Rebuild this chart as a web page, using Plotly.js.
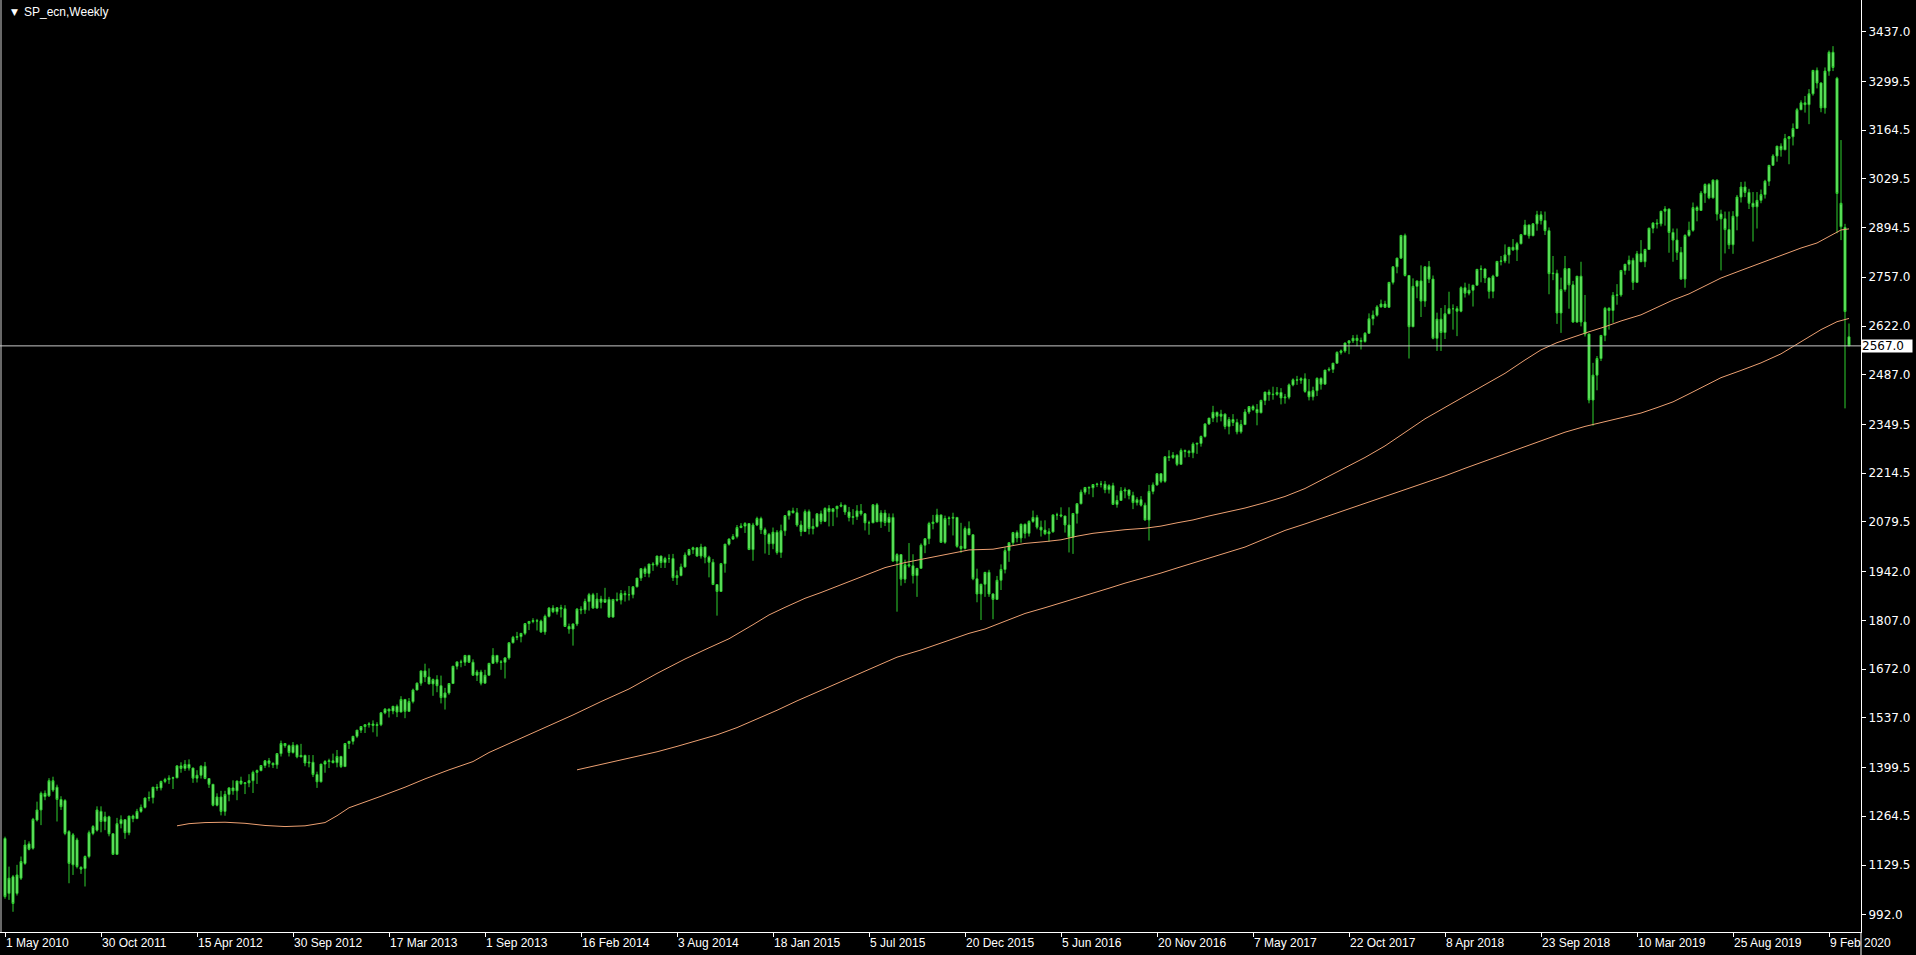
<!DOCTYPE html>
<html>
<head>
<meta charset="utf-8">
<script src="https://cdn.plot.ly/plotly-3.0.1.min.js"></script>
<style>
html,body{margin:0;padding:0;background:#000;overflow:hidden;}
#chart{width:1916px;height:955px;}
</style>
</head>
<body>
<div id="chart"></div>
<script>
// ---------------- DATA ----------------
const symbolTitle = "SP_ecn,Weekly";
const currentPrice = 2567.0;

// x-axis labels, one every 24 bars (bar 0 = "1 May 2010")
const xTickLabels = ["1 May 2010","30 Oct 2011","15 Apr 2012","30 Sep 2012","17 Mar 2013","1 Sep 2013",
  "16 Feb 2014","3 Aug 2014","18 Jan 2015","5 Jul 2015","20 Dec 2015","5 Jun 2016","20 Nov 2016",
  "7 May 2017","22 Oct 2017","8 Apr 2018","23 Sep 2018","10 Mar 2019","25 Aug 2019","9 Feb 2020"];
const labelEvery = 24;

const yTickValues = [992,1129.5,1264.5,1399.5,1537,1672,1807,1942,2079.5,2214.5,2349.5,2487,2622,2757,2894.5,3029.5,3164.5,3299.5,3437];

// weekly OHLC, bar 0 .. bar 461
const openP = [
1203,1051,1097,1051,1093,1134,1188,1176,1254,1282,
1319,1321,1337,1345,1311,1308,1222,1130,1199,1123,
1120,1153,1217,1226,1278,1250,1263,1216,1159,1244,
1255,1219,1265,1258,1278,1289,1315,1316,1345,1343,
1361,1366,1370,1371,1404,1397,1408,1398,1370,1378,
1403,1369,1353,1295,1318,1278,1325,1343,1335,1362,
1355,1357,1363,1386,1391,1405,1418,1411,1407,1438,
1466,1460,1441,1461,1429,1433,1412,1414,1380,1360,
1409,1416,1418,1413,1430,1402,1466,1472,1486,1503,
1513,1518,1520,1516,1518,1551,1561,1556,1569,1553,
1588,1555,1582,1614,1633,1667,1650,1631,1643,1626,
1593,1606,1632,1680,1692,1691,1710,1691,1655,1664,
1633,1655,1688,1710,1692,1691,1703,1745,1760,1762,
1771,1798,1804,1806,1805,1775,1818,1841,1831,1842,
1839,1790,1783,1797,1838,1836,1859,1878,1841,1866,
1857,1865,1816,1865,1863,1881,1878,1878,1900,1924,
1950,1937,1963,1961,1985,1967,1978,1978,1925,1931,
1955,1988,2003,2008,1985,2010,1982,1968,1906,1887,
1964,2018,2032,2039,2064,2068,2075,2003,2071,2089,
2058,2045,2019,2051,1995,2055,2097,2110,2105,2071,
2053,2108,2061,2067,2102,2081,2117,2108,2116,2123,
2126,2107,2092,2094,2110,2102,2077,2077,2127,2080,
2104,2078,2092,1971,1989,1921,1961,1958,1931,1951,
2015,2033,2075,2079,2099,2023,2089,2090,2092,2012,
2006,2061,2044,1922,1880,1907,1940,1880,1865,1918,
1948,2000,2022,2050,2035,2073,2048,2081,2092,2065,
2057,2047,2052,2099,2099,2096,2071,2037,2103,2130,
2162,2175,2174,2183,2184,2184,2169,2180,2128,2139,
2165,2168,2153,2133,2141,2126,2085,2164,2182,2213,
2192,2260,2258,2264,2239,2277,2275,2271,2295,2297,
2316,2351,2367,2383,2372,2378,2344,2363,2355,2329,
2349,2384,2399,2391,2382,2416,2439,2432,2433,2438,
2423,2425,2459,2473,2472,2476,2441,2426,2443,2477,
2461,2500,2502,2519,2549,2553,2575,2581,2588,2582,
2579,2602,2642,2652,2675,2683,2674,2743,2786,2810,
2873,2762,2620,2732,2747,2691,2786,2752,2588,2641,
2604,2656,2670,2670,2663,2728,2713,2721,2735,2779,
2780,2755,2718,2760,2801,2802,2819,2840,2833,2850,
2875,2902,2872,2905,2930,2914,2886,2767,2768,2658,
2723,2781,2736,2633,2760,2633,2600,2417,2486,2532,
2596,2671,2665,2707,2708,2776,2793,2804,2743,2822,
2800,2834,2893,2907,2905,2940,2946,2881,2860,2826,
2752,2873,2887,2950,2942,2990,3014,2977,3026,2932,
2919,2889,2847,2926,2979,3007,2992,2962,2952,2970,
2986,3023,3067,3093,3120,3110,3141,3146,3169,3221,
3240,3235,3265,3330,3295,3226,3328,3380,3308,2897,
2895,2592];

const highP = [
1208,1125,1102,1130,1153,1199,1195,1260,1305,1333,
1336,1370,1374,1352,1320,1312,1226,1218,1205,1126,
1156,1225,1240,1292,1292,1277,1266,1217,1260,1267,
1256,1266,1269,1285,1297,1316,1333,1345,1354,1363,
1371,1378,1374,1406,1414,1420,1422,1399,1392,1406,
1415,1370,1354,1328,1335,1335,1345,1364,1363,1374,
1358,1381,1391,1394,1406,1420,1426,1414,1438,1474,
1467,1463,1470,1464,1465,1435,1434,1434,1388,1409,
1420,1424,1438,1448,1432,1467,1473,1486,1503,1514,
1518,1525,1530,1525,1552,1564,1563,1570,1574,1597,
1589,1592,1618,1635,1667,1687,1674,1646,1655,1654,
1620,1632,1680,1693,1698,1710,1710,1699,1670,1670,
1670,1689,1730,1711,1697,1705,1745,1764,1775,1771,
1799,1804,1813,1811,1809,1823,1844,1849,1843,1850,
1849,1798,1798,1841,1846,1867,1883,1883,1883,1875,
1897,1872,1865,1884,1891,1889,1902,1901,1924,1950,
1956,1963,1968,1986,1986,1983,1990,1991,1945,1964,
1995,2005,2011,2009,2019,2011,1986,1977,1906,1966,
2018,2034,2046,2071,2076,2079,2075,2077,2094,2094,
2064,2049,2064,2057,2072,2097,2110,2119,2118,2083,
2114,2114,2089,2103,2111,2120,2126,2117,2124,2134,
2126,2121,2115,2126,2129,2104,2083,2128,2132,2112,
2113,2103,2103,1993,1990,1975,2021,1990,1951,2020,
2034,2080,2099,2116,2099,2097,2095,2105,2093,2077,
2067,2081,2044,1950,1908,1940,1947,1882,1930,1962,
2009,2022,2052,2056,2075,2075,2084,2111,2099,2083,
2084,2062,2100,2105,2120,2096,2120,2104,2131,2169,
2176,2178,2183,2188,2193,2193,2184,2188,2153,2176,
2175,2169,2163,2148,2151,2133,2182,2189,2214,2214,
2260,2278,2273,2267,2283,2280,2279,2300,2299,2319,
2352,2367,2401,2385,2390,2380,2370,2378,2365,2362,
2392,2400,2404,2406,2418,2440,2446,2454,2453,2450,
2434,2463,2477,2484,2480,2491,2475,2454,2480,2480,
2500,2508,2520,2552,2557,2576,2582,2597,2598,2590,
2605,2657,2665,2680,2695,2692,2743,2787,2811,2873,
2878,2763,2754,2747,2790,2786,2802,2762,2659,2672,
2680,2717,2682,2677,2732,2742,2739,2736,2779,2790,
2781,2756,2764,2802,2816,2848,2841,2863,2855,2877,
2916,2902,2907,2941,2940,2939,2895,2816,2778,2756,
2816,2782,2747,2760,2800,2708,2601,2520,2539,2597,
2675,2674,2716,2738,2776,2794,2817,2811,2830,2860,
2836,2894,2910,2918,2940,2954,2947,2892,2892,2841,
2876,2911,2964,2955,2996,3017,3018,3028,3028,2944,
2939,2939,2940,2985,3021,3022,3002,2993,2993,3000,
3027,3067,3098,3121,3128,3154,3148,3183,3226,3247,
3259,3278,3330,3338,3297,3338,3385,3397,3312,3137,
2905,2629];

const lowP = [
1036,1033,1000,1045,1088,1130,1170,1172,1250,1240,
1309,1318,1332,1250,1282,1212,1079,1102,1120,1105,
1070,1148,1212,1222,1220,1226,1209,1158,1158,1231,
1202,1212,1248,1258,1274,1286,1306,1300,1335,1336,
1356,1354,1340,1370,1385,1390,1391,1357,1358,1369,
1367,1343,1292,1292,1267,1266,1306,1324,1309,1351,
1326,1345,1329,1354,1389,1398,1400,1398,1396,1430,
1454,1430,1438,1425,1428,1403,1400,1373,1343,1358,
1385,1398,1411,1400,1398,1401,1451,1463,1481,1495,
1495,1510,1497,1485,1514,1547,1538,1547,1539,1553,
1536,1554,1577,1614,1626,1636,1630,1598,1608,1577,
1560,1601,1632,1671,1677,1681,1689,1654,1639,1627,
1633,1655,1686,1687,1670,1646,1698,1743,1752,1746,
1766,1780,1799,1779,1772,1767,1815,1827,1823,1815,
1790,1770,1737,1791,1824,1825,1834,1839,1839,1840,
1856,1814,1815,1859,1851,1859,1862,1868,1898,1916,
1927,1926,1944,1956,1952,1952,1966,1916,1905,1929,
1953,1987,1991,1983,1978,1965,1926,1906,1820,1886,
1939,2014,2030,2034,2062,2049,2002,1972,2068,2046,
1992,1988,2004,1989,1980,2041,2086,2103,2066,2040,
2053,2045,2045,2064,2073,2079,2067,2068,2092,2120,
2099,2081,2072,2085,2097,2056,2044,2077,2079,2063,
2068,2052,1970,1831,1903,1910,1953,1909,1872,1950,
1993,2018,2059,2076,2022,2019,2070,2042,2008,1994,
2003,2044,1918,1857,1808,1872,1872,1810,1865,1891,
1937,1969,2015,2023,2022,2034,2039,2077,2059,2039,
2043,2025,2050,2085,2092,2050,1995,1991,2075,2128,
2155,2156,2148,2176,2175,2159,2158,2127,2119,2138,
2145,2142,2115,2125,2122,2083,2028,2156,2180,2187,
2188,2248,2254,2234,2239,2258,2259,2256,2268,2288,
2313,2348,2356,2355,2358,2336,2322,2345,2322,2324,
2349,2378,2387,2347,2380,2403,2415,2418,2429,2405,
2407,2419,2455,2459,2462,2437,2416,2416,2428,2446,
2461,2496,2492,2519,2543,2548,2544,2575,2566,2557,
2576,2600,2624,2648,2673,2672,2672,2737,2768,2808,
2759,2532,2620,2699,2647,2675,2741,2585,2553,2553,
2586,2656,2612,2594,2660,2701,2707,2676,2735,2743,
2741,2698,2699,2760,2790,2796,2795,2830,2802,2848,
2874,2864,2871,2886,2903,2874,2710,2749,2628,2603,
2717,2670,2631,2631,2621,2593,2408,2346,2444,2525,
2580,2612,2631,2681,2703,2764,2775,2722,2741,2800,
2785,2834,2879,2892,2898,2900,2825,2800,2805,2750,
2728,2869,2883,2912,2942,2963,2973,2975,2914,2776,
2823,2835,2822,2887,2964,2979,2946,2856,2892,2962,
2975,3010,3066,3077,3091,3110,3070,3122,3168,3220,
3213,3181,3260,3280,3214,3210,3315,3328,2879,2860,
2394,2567];

const closeP = [
1042,1093,1023,1102,1139,1185,1173,1256,1282,1328,
1328,1363,1363,1311,1291,1217,1134,1213,1125,1118,
1153,1219,1236,1282,1250,1263,1216,1159,1244,1255,
1219,1265,1258,1278,1289,1315,1316,1345,1343,1361,
1366,1370,1371,1404,1397,1408,1398,1370,1378,1403,
1369,1353,1295,1318,1278,1325,1343,1335,1362,1355,
1357,1363,1386,1391,1405,1418,1411,1407,1438,1466,
1460,1441,1461,1429,1433,1412,1414,1380,1360,1409,
1416,1418,1413,1430,1402,1466,1472,1486,1503,1513,
1518,1520,1516,1518,1551,1561,1556,1569,1553,1588,
1555,1582,1614,1633,1667,1650,1631,1643,1626,1593,
1606,1632,1680,1692,1691,1710,1691,1655,1664,1633,
1655,1688,1710,1692,1691,1703,1745,1760,1762,1771,
1798,1804,1806,1805,1775,1818,1841,1831,1842,1839,
1790,1783,1797,1838,1836,1859,1878,1841,1866,1857,
1865,1816,1865,1863,1881,1878,1878,1900,1924,1950,
1937,1963,1961,1985,1967,1978,1978,1925,1931,1955,
1988,2003,2008,1985,2010,1982,1968,1906,1887,1964,
2018,2032,2039,2064,2068,2075,2003,2071,2089,2058,
2045,2019,2051,1995,2055,2097,2110,2105,2071,2053,
2108,2061,2067,2102,2081,2117,2108,2116,2123,2126,
2107,2092,2094,2110,2102,2077,2077,2127,2080,2104,
2078,2092,1971,1989,1921,1961,1958,1931,1951,2015,
2033,2075,2079,2099,2023,2089,2090,2092,2012,2006,
2061,2044,1922,1880,1907,1940,1880,1865,1918,1948,
2000,2022,2050,2035,2073,2048,2081,2092,2065,2057,
2047,2052,2099,2099,2096,2071,2037,2103,2130,2162,
2175,2174,2183,2184,2184,2169,2180,2128,2139,2165,
2168,2153,2133,2141,2126,2085,2164,2182,2213,2192,
2260,2258,2264,2239,2277,2275,2271,2295,2297,2316,
2351,2367,2383,2372,2378,2344,2363,2355,2329,2349,
2384,2399,2391,2382,2416,2439,2432,2433,2438,2423,
2425,2459,2473,2472,2476,2441,2426,2443,2477,2461,
2500,2502,2519,2549,2553,2575,2581,2588,2582,2579,
2602,2642,2652,2675,2683,2674,2743,2786,2810,2873,
2762,2620,2732,2747,2691,2786,2752,2588,2641,2604,
2656,2670,2670,2663,2728,2713,2721,2735,2779,2780,
2755,2718,2760,2801,2802,2819,2840,2833,2850,2875,
2902,2872,2905,2930,2914,2886,2767,2768,2658,2723,
2781,2736,2633,2760,2633,2600,2417,2486,2532,2596,
2671,2665,2707,2708,2776,2793,2804,2743,2822,2800,
2834,2893,2907,2905,2940,2946,2881,2860,2826,2752,
2873,2887,2950,2942,2990,3014,2977,3026,2932,2919,
2889,2847,2926,2979,3007,2992,2962,2952,2970,2986,
3023,3067,3093,3120,3110,3141,3146,3169,3221,3240,
3235,3265,3330,3295,3226,3328,3380,3338,2989,2962,
2662,2567];

// moving averages (bar index -> value)
const ma100Bar = [43,46,50,55,60,65,70,75,80,83,86,90,94,100,105,111,117,121,128,135,142,149,156,163,170,176,181,187,191,195,200,204,208,212,216,220,225,229,233,237,241,247,251,255,260,264,268,272,276,280,285,289,293,297,301,306,310,315,320,325,330,335,340,345,350,355,361,367,371,375,380,384,388,392,396,400,404,409,413,417,421,425,429,434,439,444,449,453,456,459,461];
const ma100Val = [1238,1244,1247,1248,1245,1239,1236,1238,1247,1266,1288,1305,1320,1345,1368,1393,1416,1441,1475,1510,1545,1582,1617,1660,1700,1731,1756,1795,1822,1843,1868,1884,1901,1919,1937,1953,1967,1976,1986,1994,2002,2004,2012,2020,2025,2030,2040,2048,2053,2058,2062,2068,2077,2085,2096,2108,2118,2133,2150,2172,2200,2228,2258,2290,2328,2365,2403,2440,2466,2491,2528,2556,2576,2592,2606,2620,2636,2653,2673,2694,2711,2733,2755,2776,2797,2817,2838,2852,2870,2888,2891];
const ma200Bar = [143,148,153,158,163,168,173,178,183,188,193,198,203,208,213,218,223,229,235,241,245,250,255,260,264,268,272,276,280,285,289,293,297,301,306,310,315,320,325,330,335,340,345,350,355,360,365,370,375,380,385,390,395,398,402,405,409,413,417,421,425,429,434,439,444,449,454,458,461];
const ma200Val = [1393,1405,1418,1430,1443,1458,1473,1490,1510,1533,1558,1584,1608,1633,1657,1680,1705,1725,1748,1771,1783,1805,1826,1842,1855,1868,1882,1896,1910,1925,1938,1952,1966,1979,1996,2010,2033,2056,2074,2093,2111,2130,2149,2168,2186,2207,2228,2248,2269,2290,2310,2328,2344,2352,2362,2372,2381,2396,2412,2434,2456,2479,2499,2520,2545,2579,2612,2634,2643];

// ---------------- CHART ----------------
const W = 1916, H = 955, plotRight = 1861, plotBottom = 932;
const barIndex = closeP.map((_, i) => i);
const xTickVals = xTickLabels.map((_, k) => k * labelEvery);

const candleColor = '#2fcf2f';
const candleFill = '#86f286';
const maColor = '#eca072';

const traces = [
  {
    type: 'candlestick', x: barIndex,
    open: openP, high: highP, low: lowP, close: closeP,
    increasing: {line: {color: candleColor, width: 1}, fillcolor: candleFill},
    decreasing: {line: {color: candleColor, width: 1}, fillcolor: candleFill},
    whiskerwidth: 0, hoverinfo: 'skip', showlegend: false
  },
  {type: 'scatter', mode: 'lines', x: ma100Bar, y: ma100Val,
   line: {color: maColor, width: 1}, hoverinfo: 'skip', showlegend: false},
  {type: 'scatter', mode: 'lines', x: ma200Bar, y: ma200Val,
   line: {color: maColor, width: 1}, hoverinfo: 'skip', showlegend: false}
];

const layout = {
  width: W, height: H,
  paper_bgcolor: '#000000', plot_bgcolor: '#000000',
  margin: {l: 0, r: W - plotRight, t: 0, b: H - plotBottom, pad: 0},
  showlegend: false,
  xaxis: {
    range: [-1.25, 464], showgrid: false, zeroline: false,
    showline: true, linecolor: '#ffffff', linewidth: 1,
    ticks: 'outside', ticklen: 4, tickcolor: '#ffffff', tickwidth: 1,
    tickmode: 'array', tickvals: xTickVals, ticktext: xTickLabels,
    ticklabelposition: 'outside right', tickangle: 0,
    tickfont: {family: 'Liberation Sans, Arial, sans-serif', size: 12, color: '#ffffff'},
    rangeslider: {visible: false}, fixedrange: true
  },
  yaxis: {
    range: [944, 3524.8], side: 'right', showgrid: false, zeroline: false,
    showline: true, linecolor: '#ffffff', linewidth: 1,
    ticks: 'outside', ticklen: 4, tickcolor: '#ffffff', tickwidth: 1,
    tickmode: 'array', tickvals: yTickValues, ticktext: yTickValues.map(v => v.toFixed(1)),
    tickfont: {family: 'DejaVu Sans, sans-serif', size: 12, color: '#ffffff'},
    fixedrange: true
  },
  shapes: [
    {type: 'line', xref: 'paper', yref: 'y', x0: 0, x1: 1, y0: currentPrice, y1: currentPrice,
     line: {color: '#c8c8c8', width: 1}},
    {type: 'line', xref: 'paper', yref: 'paper', x0: 1 / plotRight, x1: 1 / plotRight, y0: 0, y1: 1,
     line: {color: '#d0d0d0', width: 1}},
    {type: 'line', xref: 'paper', yref: 'paper', x0: 1, x1: 1, y0: 0, y1: -(H - plotBottom) / plotBottom,
     line: {color: '#ffffff', width: 1}}
  ],
  annotations: [
    {xref: 'paper', yref: 'paper', x: 9 / plotRight, y: 1 - 12 / plotBottom, xanchor: 'left', yanchor: 'middle',
     text: '\u25BC', showarrow: false, font: {family: 'DejaVu Sans', size: 9, color: '#ffffff'}},
    {xref: 'paper', yref: 'paper', x: 22 / plotRight, y: 1 - 12 / plotBottom, xanchor: 'left', yanchor: 'middle',
     text: symbolTitle, showarrow: false, font: {family: 'Liberation Sans, Arial, sans-serif', size: 12, color: '#ffffff'}},
    {xref: 'paper', yref: 'y', x: 1, y: currentPrice, xanchor: 'left', yanchor: 'middle',
     text: currentPrice.toFixed(1), showarrow: false, bgcolor: '#ffffff', borderpad: 0,
     width: 50, height: 12, align: 'left',
     font: {family: 'DejaVu Sans, sans-serif', size: 12, color: '#000000'}}
  ]
};

Plotly.newPlot('chart', traces, layout, {staticPlot: true, displayModeBar: false});
</script>
</body>
</html>
